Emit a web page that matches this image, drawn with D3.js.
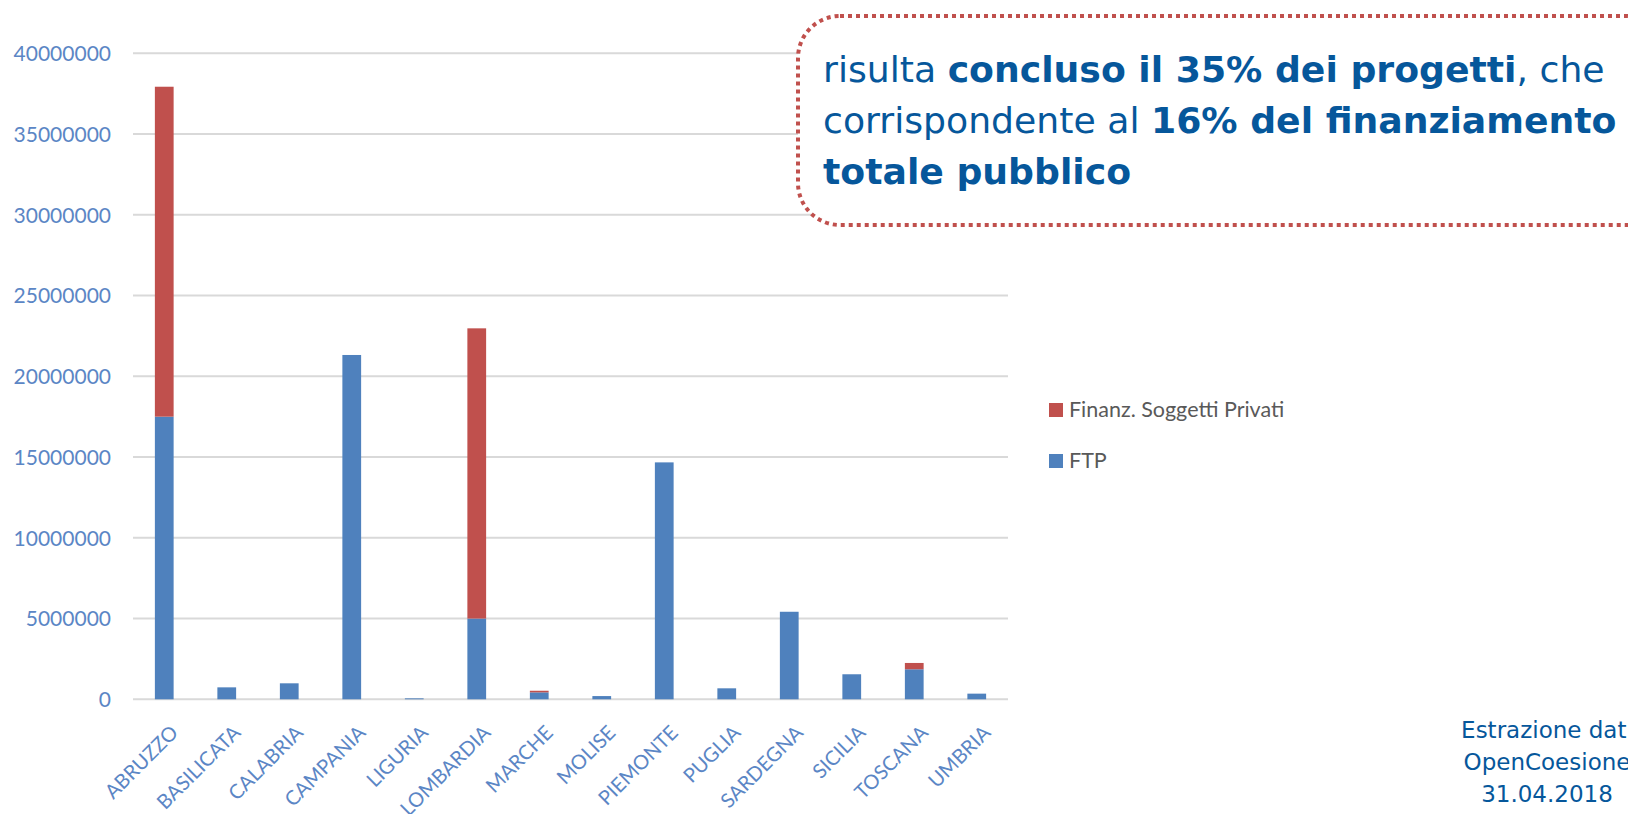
<!DOCTYPE html>
<html><head><meta charset="utf-8">
<script src="https://cdn.jsdelivr.net/npm/d3@7"></script>
<style>html,body{margin:0;padding:0;background:#fff;}svg{display:block;}</style>
</head><body>
<svg id="c" width="1628" height="814"></svg>
<script>
const categories = ["ABRUZZO","BASILICATA","CALABRIA","CAMPANIA","LIGURIA","LOMBARDIA","MARCHE","MOLISE","PIEMONTE","PUGLIA","SARDEGNA","SICILIA","TOSCANA","UMBRIA"];
const ftp     = [17500000, 740000, 990000, 21320000, 60000, 5000000, 430000, 200000, 14670000, 680000, 5420000, 1550000, 1860000, 350000];
const privati = [20430000, 0, 0, 0, 0, 17970000, 100000, 0, 0, 0, 0, 0, 390000, 0];
const seriesNames = ["Finanz. Soggetti Privati", "FTP"];
const yTicks = [0,5000000,10000000,15000000,20000000,25000000,30000000,35000000,40000000];
const calloutLines = [
  [["risulta ",false],["concluso il 35% dei progetti",true],[", che",false]],
  [["corrispondente al ",false],["16% del finanziamento",true]],
  [["totale pubblico",true]]
];
const footLines = ["Estrazione dati","OpenCoesione","31.04.2018"];

const svg = d3.select("#c");
const blue = "#4f81bd", red = "#c0504d", tickCol = "#5b86c5";

const x = d3.scaleBand().domain(categories).range([133,1008]).paddingInner(0.7).paddingOuter(0.35);
const y = d3.scaleLinear().domain([0,40000000]).range([699.3,53.3]);

// gridlines
svg.append("g").selectAll("line").data(yTicks).join("line")
  .attr("x1",133).attr("x2",1008)
  .attr("y1",d=>y(d)).attr("y2",d=>y(d))
  .attr("stroke","#d9d9d9").attr("stroke-width",2);

// y axis labels
const yAxis = d3.axisLeft(y).tickValues(yTicks).tickFormat(d3.format("d")).tickSize(0).tickPadding(0);
const ya = svg.append("g").attr("transform","translate(111,0)").call(yAxis);
ya.select(".domain").remove();
ya.selectAll("text").attr("font-family","Lato").attr("font-size",21).attr("fill",tickCol).attr("dy","0.35em");

// stacked bars
const data = categories.map((c,i)=>({cat:c, FTP:ftp[i], PRIV:privati[i]}));
const stack = d3.stack().keys(["FTP","PRIV"])(data);
const colors = {FTP:blue, PRIV:red};
svg.append("g").selectAll("g").data(stack).join("g")
  .attr("fill",s=>colors[s.key])
  .selectAll("rect").data(s=>s).join("rect")
  .attr("x",d=>x(d.data.cat)).attr("width",x.bandwidth())
  .attr("y",d=>y(d[1])).attr("height",d=>Math.max(0,y(d[0])-y(d[1])));

// x labels
const xAxis = d3.axisBottom(x).tickSize(0).tickPadding(0);
const xa = svg.append("g").attr("transform","translate(0,700)").call(xAxis);
xa.select(".domain").remove();
xa.selectAll("text")
  .attr("font-family","Lato").attr("font-size",20).attr("fill",tickCol)
  .attr("text-anchor","end").attr("dy",null).attr("y",null)
  .attr("transform","translate(15,34) rotate(-45)");

// legend
const lg = svg.append("g");
const legCols = [red, blue];
seriesNames.forEach((n,i)=>{
  const yy = 403 + i*51;
  lg.append("rect").attr("x",1049).attr("y",yy).attr("width",14).attr("height",14).attr("fill",legCols[i]);
  lg.append("text").attr("x",1069).attr("y",yy+14).text(n)
    .attr("font-family","Lato").attr("font-size",21.5).attr("fill","#595959");
});

// callout box
svg.append("rect").attr("x",798).attr("y",16).attr("width",870).attr("height",209)
  .attr("rx",42).attr("ry",42).attr("fill","#fff")
  .attr("stroke",red).attr("stroke-width",4).attr("stroke-dasharray","4,4");

const txtCol = "#06579b";
const baselines = [82,133,184];
const ct = svg.append("g");
const lineEls = calloutLines.map((parts,i)=>{
  const t = ct.append("text").attr("x",823).attr("y",baselines[i])
    .attr("font-family","DejaVu Sans").attr("font-size",36).attr("fill",txtCol);
  parts.forEach(p=>t.append("tspan").text(p[0]).attr("font-weight",p[1]?"bold":"normal"));
  return t;
});
// fit first line width to ~782px
const w0 = lineEls[0].node().getComputedTextLength();
const fs = 36*782/w0;
lineEls.forEach(t=>t.attr("font-size",fs));

// footer
const ft = svg.append("g");
footLines.forEach((l,i)=>{
  ft.append("text").attr("x",1547).attr("y",738+i*32).attr("text-anchor","middle")
    .attr("font-family","DejaVu Sans").attr("font-size",23).attr("fill",txtCol).text(l);
});
</script>
</body></html>
